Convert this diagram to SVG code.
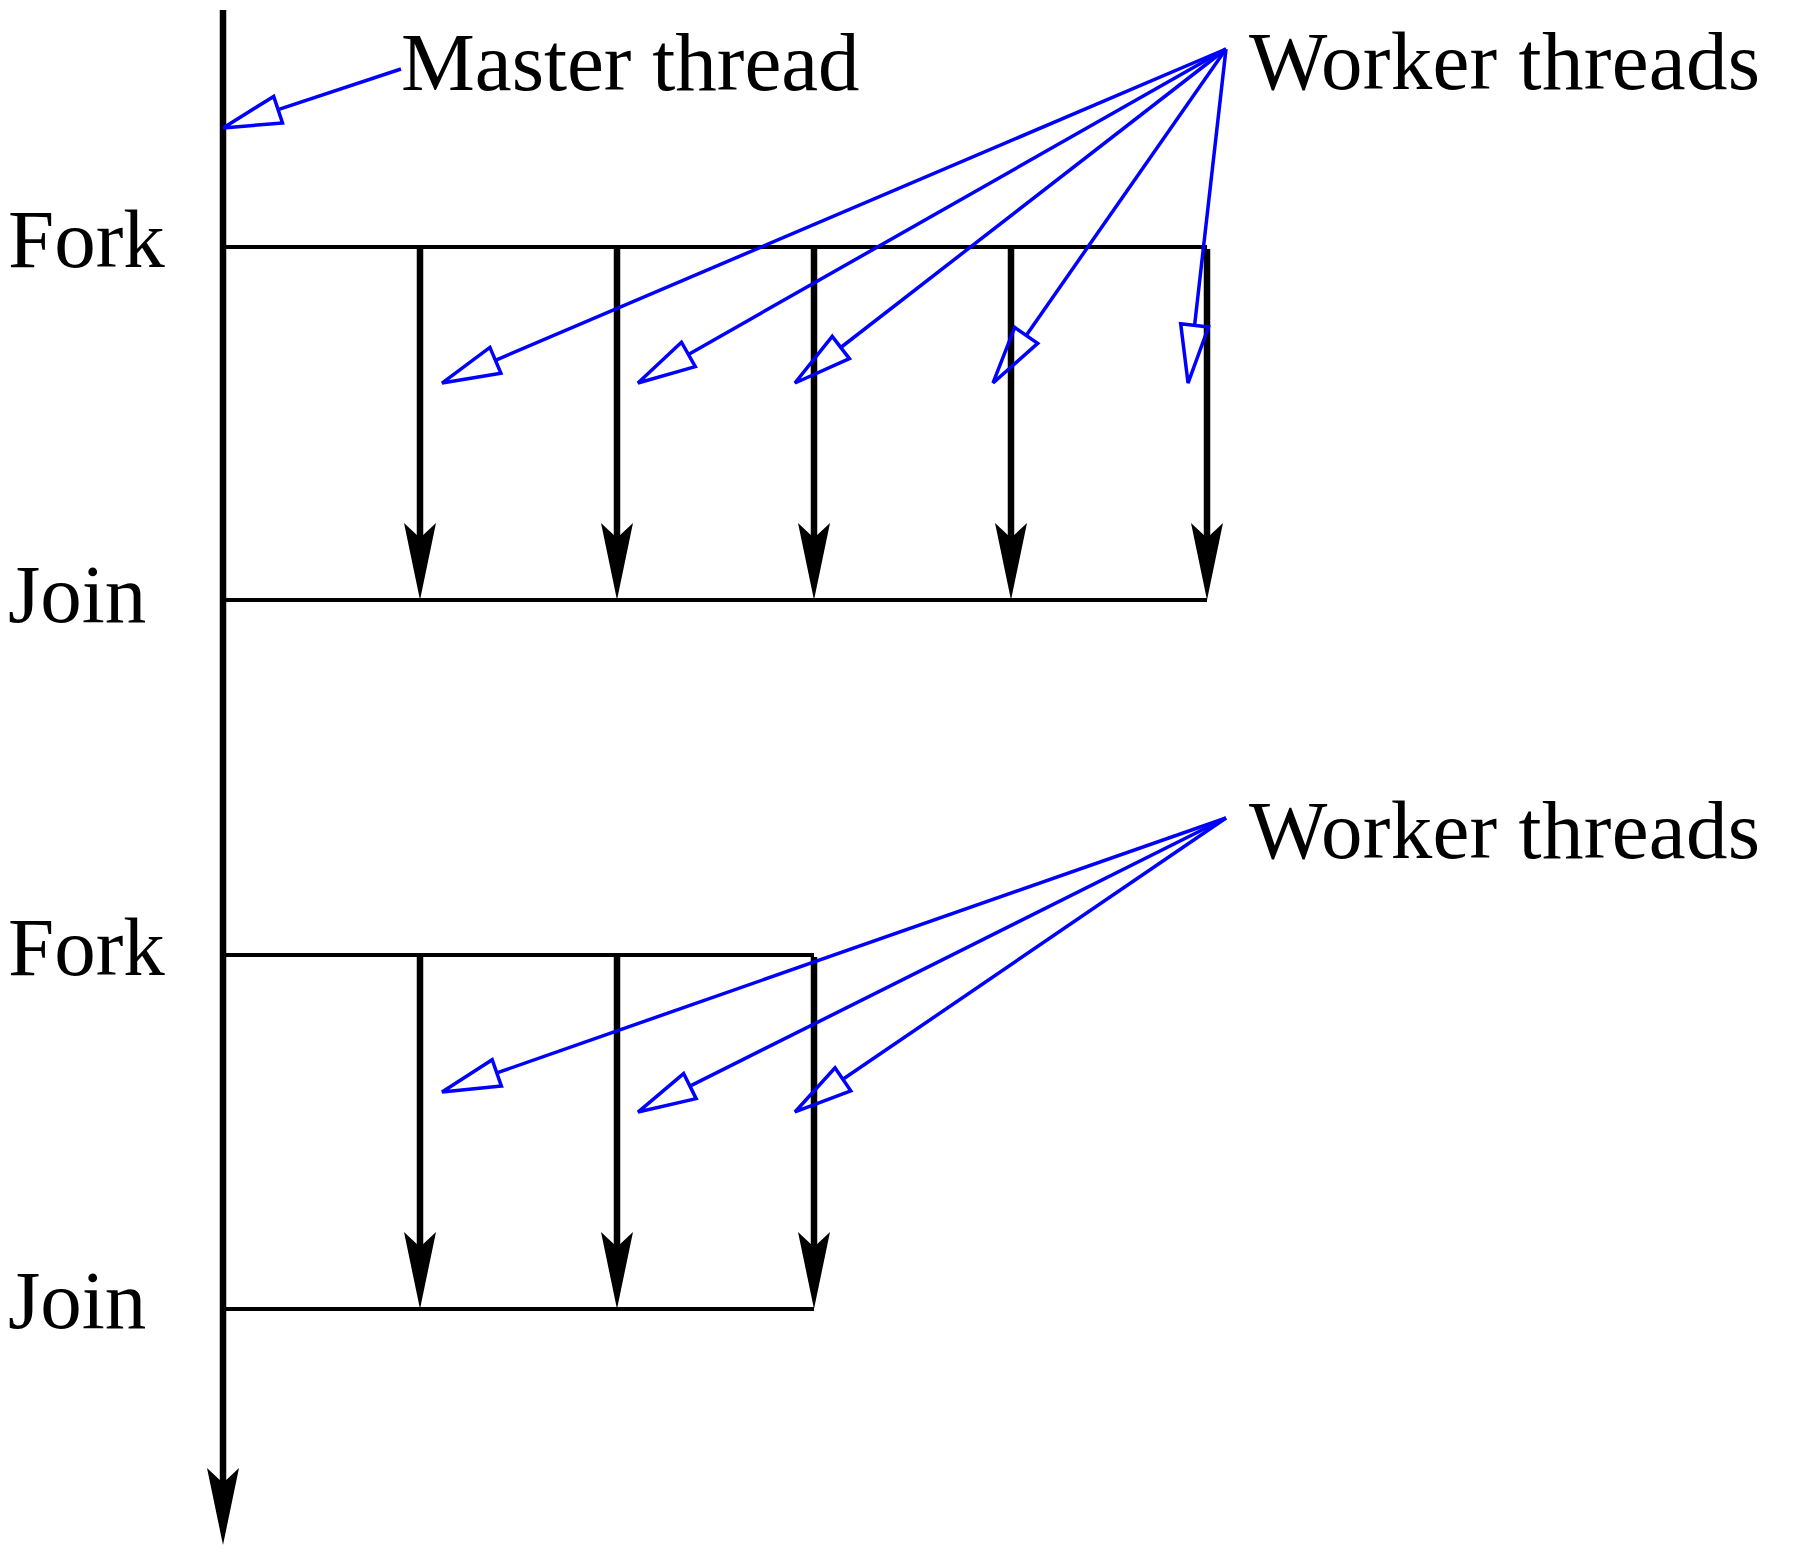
<svg xmlns="http://www.w3.org/2000/svg" xmlns:xlink="http://www.w3.org/1999/xlink" width="1806" height="1556" viewBox="0 0 1806 1556">
<style>
.lbl{font-family:"Liberation Serif","Times New Roman",serif;font-size:83px;fill:#000}
.bar{stroke:#000;stroke-width:4;fill:none}
.thr{stroke:#000;stroke-width:6.5;fill:none}
.ptr{stroke:#0000ff;stroke-width:3.5;fill:none;marker-end:url(#open)}
.ah{fill:#000;stroke:none}
</style>
<defs>
<marker id="open" markerUnits="userSpaceOnUse" viewBox="-4 -18 66 36" markerWidth="66" markerHeight="36" refX="0" refY="0" orient="auto" overflow="visible">
<path d="M0 -14 L58 0 L0 14 Z" fill="none" stroke="#0000ff" stroke-width="3.5" stroke-linejoin="miter"/>
</marker>
<path id="ah" d="M0 0 L-16 -77 L0 -62 L16 -77 Z"/>
</defs>
<rect width="1806" height="1556" fill="#fff"/>
<g id="master-thread">
<line class="thr" x1="223" y1="10" x2="223" y2="1484"/>
<use href="#ah" class="ah" x="223" y="1545"/>
</g>
<g id="fork1">
<line class="bar" x1="223" y1="247" x2="1207" y2="247"/>
</g>
<g id="join1">
<line class="bar" x1="223" y1="600" x2="1207" y2="600"/>
</g>
<g id="workers1">
<line class="thr" x1="420" y1="249" x2="420" y2="540"/>
<line class="thr" x1="617" y1="249" x2="617" y2="540"/>
<line class="thr" x1="814" y1="249" x2="814" y2="540"/>
<line class="thr" x1="1011" y1="249" x2="1011" y2="540"/>
<line class="thr" x1="1207" y1="249" x2="1207" y2="540"/>
<use href="#ah" class="ah" x="420" y="600"/>
<use href="#ah" class="ah" x="617" y="600"/>
<use href="#ah" class="ah" x="814" y="600"/>
<use href="#ah" class="ah" x="1011" y="600"/>
<use href="#ah" class="ah" x="1207" y="600"/>
</g>
<g id="fork2">
<line class="bar" x1="223" y1="955" x2="814" y2="955"/>
</g>
<g id="join2">
<line class="bar" x1="223" y1="1309" x2="814" y2="1309"/>
</g>
<g id="workers2">
<line class="thr" x1="420" y1="957" x2="420" y2="1249"/>
<line class="thr" x1="617" y1="957" x2="617" y2="1249"/>
<line class="thr" x1="814" y1="957" x2="814" y2="1249"/>
<use href="#ah" class="ah" x="420" y="1309"/>
<use href="#ah" class="ah" x="617" y="1309"/>
<use href="#ah" class="ah" x="814" y="1309"/>
</g>
<g id="labels">
<text class="lbl" x="401" y="90">Master thread</text>
<text class="lbl" x="1249" y="89" textLength="511" lengthAdjust="spacing">Worker threads</text>
<text class="lbl" x="1249" y="858" textLength="511" lengthAdjust="spacing">Worker threads</text>
<text class="lbl" x="8" y="267">Fork</text>
<text class="lbl" x="8" y="622">Join</text>
<text class="lbl" x="8" y="975">Fork</text>
<text class="lbl" x="8" y="1328">Join</text>
</g>
<g id="connectors">
<line class="ptr" x1="401" y1="69" x2="278.1" y2="109.7"/>
<line class="ptr" x1="1226" y1="49" x2="495.4" y2="360.3"/>
<line class="ptr" x1="1226" y1="49" x2="688.4" y2="354.4"/>
<line class="ptr" x1="1226" y1="49" x2="840.8" y2="347.5"/>
<line class="ptr" x1="1226" y1="49" x2="1026.2" y2="335.4"/>
<line class="ptr" x1="1226" y1="49" x2="1194.6" y2="325.4"/>
<line class="ptr" x1="1226" y1="818" x2="496.8" y2="1072.9"/>
<line class="ptr" x1="1226" y1="818" x2="689.9" y2="1086.1"/>
<line class="ptr" x1="1226" y1="818" x2="842.9" y2="1079.3"/>
</g>
</svg>
